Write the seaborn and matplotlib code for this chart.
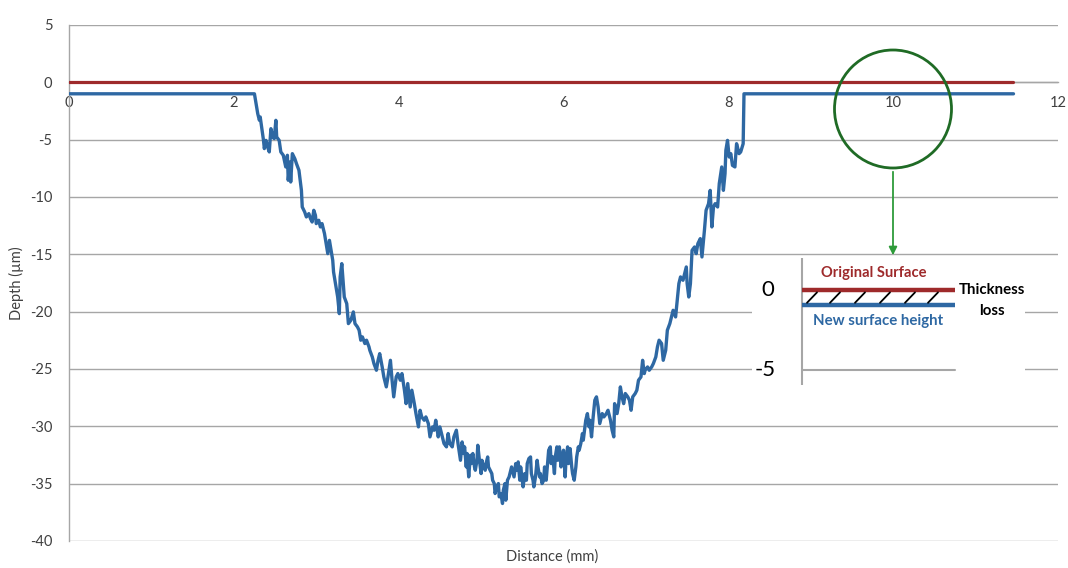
import matplotlib
matplotlib.use("Agg")
import matplotlib.pyplot as plt
import matplotlib.patches as mpatches
import seaborn as sns
import pandas as pd

# ---------------- data ----------------
original_x = [0.0, 11.46]
original_depth = [0.0, 0.0]

profile_x = [
    0.00, 2.25, 2.29, 2.31, 2.32, 2.36, 2.37, 2.39, 2.41, 2.43, 2.45, 2.47, 2.49, 2.51, 2.52,
    2.55, 2.57, 2.60, 2.63, 2.65, 2.66, 2.68, 2.69, 2.71, 2.74, 2.76, 2.79, 2.82, 2.83, 2.86,
    2.88, 2.91, 2.93, 2.95, 2.97, 2.99, 3.00, 3.03, 3.05, 3.07, 3.10, 3.12, 3.14, 3.16, 3.18,
    3.20, 3.21, 3.24, 3.26, 3.28, 3.29, 3.31, 3.33, 3.34, 3.37, 3.39, 3.42, 3.45, 3.47, 3.50,
    3.52, 3.54, 3.56, 3.59, 3.61, 3.64, 3.65, 3.68, 3.70, 3.73, 3.75, 3.77, 3.80, 3.82, 3.85,
    3.87, 3.90, 3.92, 3.94, 3.97, 3.99, 4.02, 4.04, 4.07, 4.09, 4.11, 4.14, 4.16, 4.19, 4.21,
    4.24, 4.26, 4.28, 4.31, 4.33, 4.36, 4.38, 4.41, 4.43, 4.45, 4.48, 4.50, 4.53, 4.55, 4.58,
    4.60, 4.62, 4.65, 4.67, 4.70, 4.72,
    4.75, 4.77, 4.79, 4.80, 4.82, 4.83, 4.85, 4.87, 4.88, 4.90, 4.92, 4.93, 4.95, 4.96, 4.98,
    5.00, 5.01, 5.03, 5.05, 5.06, 5.08, 5.09, 5.11, 5.13, 5.14, 5.16, 5.17, 5.19, 5.21, 5.22,
    5.24, 5.26, 5.27, 5.29, 5.30, 5.32, 5.34, 5.35, 5.37, 5.38, 5.40, 5.42, 5.43, 5.45, 5.47,
    5.48, 5.50, 5.51, 5.53, 5.55, 5.56, 5.58, 5.60, 5.61, 5.63, 5.64, 5.66, 5.68, 5.69, 5.71,
    5.72, 5.74, 5.76, 5.77, 5.79, 5.81, 5.82, 5.84, 5.85, 5.87, 5.89, 5.90, 5.92, 5.93, 5.95,
    5.97, 5.98, 6.00, 6.02, 6.03, 6.05, 6.06, 6.08, 6.10, 6.11, 6.13, 6.15, 6.16, 6.18, 6.19,
    6.21, 6.23, 6.24, 6.26, 6.27, 6.29, 6.31, 6.32,
    6.34, 6.36, 6.38, 6.40, 6.42, 6.44, 6.47, 6.49, 6.52, 6.54, 6.57, 6.59, 6.61, 6.62, 6.65,
    6.67, 6.69, 6.71, 6.73, 6.75, 6.78, 6.80, 6.82, 6.84, 6.87, 6.89, 6.91, 6.94, 6.96, 6.98,
    6.99, 7.02, 7.04, 7.07, 7.09, 7.12, 7.14, 7.16, 7.19, 7.21, 7.24, 7.26, 7.29, 7.31, 7.33,
    7.36, 7.38, 7.40, 7.42, 7.45, 7.47, 7.49, 7.50, 7.52, 7.54,
    7.56, 7.59, 7.61, 7.63, 7.66, 7.68, 7.71, 7.73, 7.76, 7.78, 7.80, 7.82, 7.84, 7.87, 7.89,
    7.92, 7.94, 7.96, 7.97, 7.99, 8.01, 8.03, 8.05, 8.08, 8.10, 8.13, 8.15, 8.18, 8.19, 11.46,
]
profile_depth = [
    -1.00, -1.00, -2.73, -3.31, -3.02, -5.06, -5.78, -5.06, -5.64, -6.07, -4.04, -4.77, -4.91, -3.31, -4.77,
    -5.06, -6.07, -6.36, -7.38, -6.36, -8.54, -6.95, -8.69, -6.22, -6.66, -7.09, -7.67, -9.42, -10.87, -11.31,
    -11.74, -11.45, -11.89, -12.18, -11.16, -11.60, -12.32, -12.03, -12.61, -12.32, -13.19, -14.07, -14.94, -13.78, -14.65,
    -15.52, -16.54, -17.84, -18.72, -20.17, -16.97, -15.81, -17.84, -18.72, -19.30, -21.04, -20.75, -20.02, -21.04, -21.33,
    -21.62, -22.49, -22.20, -22.78, -22.49, -23.07, -23.37, -23.95, -24.53, -25.11, -24.24, -23.66, -24.82, -25.69, -26.56,
    -25.69, -24.24, -25.98, -27.43, -25.69, -25.40, -25.98, -25.40, -26.85, -28.02, -26.27, -28.31, -26.85, -28.02, -28.89,
    -30.05, -28.60, -29.18, -29.47, -29.18, -29.76, -30.92, -30.05, -30.34, -29.47, -30.92, -30.05, -30.92, -31.50, -31.79,
    -30.63, -31.50, -31.79, -30.92, -30.34, -31.50,
    -32.96, -31.36, -32.37, -31.79, -33.54, -32.37, -34.41, -32.52, -33.25, -32.37, -33.54, -33.83, -32.96, -31.65, -32.96,
    -34.12, -32.96, -33.54, -33.83, -33.25, -32.67, -33.54, -33.83, -34.12, -34.70, -34.99, -35.86, -35.28, -34.99, -36.15,
    -35.86, -36.73, -35.57, -34.99, -36.44, -34.70, -34.41, -34.12, -33.54, -33.83, -34.41, -33.25, -33.83, -33.10, -34.70,
    -33.54, -34.70, -35.28, -34.12, -34.70, -33.25, -32.81, -32.67, -34.12, -34.70, -35.28, -34.41, -32.96, -33.54, -34.41,
    -34.12, -34.99, -34.70, -33.54, -34.70, -32.96, -32.08, -31.79, -33.25, -32.67, -34.12, -32.67, -31.79, -32.96, -31.79,
    -33.54, -32.96, -32.08, -34.41, -32.96, -31.79, -33.25, -31.94, -33.54, -34.12, -34.70, -33.54, -32.67, -31.79, -32.08,
    -31.50, -30.63, -31.21, -30.05, -29.47, -28.89, -30.05, -29.47,
    -30.92, -29.18, -27.72, -27.43, -28.31, -29.76, -28.89, -29.18, -28.89, -28.60, -29.47, -30.34, -30.92, -28.02, -28.89,
    -28.02, -26.56, -27.43, -28.02, -27.14, -27.43, -27.72, -28.60, -27.43, -27.14, -26.85, -25.98, -25.69, -24.24, -25.40,
    -25.11, -24.82, -25.11, -24.82, -24.53, -23.95, -23.07, -22.49, -22.78, -24.24, -23.37, -21.62, -21.04, -20.46, -19.88,
    -20.46, -19.01, -17.55, -16.97, -17.26, -16.68, -16.10, -17.55, -18.72, -17.55,
    -14.65, -14.36, -14.94, -14.07, -13.63, -15.23, -12.90, -11.16, -10.58, -9.42, -12.61, -10.87, -10.58, -10.87, -8.83,
    -7.38, -9.42, -7.96, -5.93, -5.06, -6.51, -6.22, -7.24, -7.38, -5.35, -6.22, -6.07, -5.35, -1.00, -1.00,
]

x_ticks = [0, 2, 4, 6, 8, 10, 12]
y_ticks = [-40, -35, -30, -25, -20, -15, -10, -5, 0, 5]

# inset schematic (same depth units, 0 = original surface, -1 = new surface)
inset_x = [50, 203]
inset_original = [0, 0]
inset_new = [-0.95, -0.95]
inset_ref = [-5, -5]
hatch_starts = [55, 78, 103, 128, 153, 176]

RED = "#9E2A2B"
BLUE = "#2E68A3"
GRID = "#A6A6A6"
TXT = "#404040"
GREEN_DARK = "#1F6B25"
GREEN = "#2E9B3A"

# ---------------- style ----------------
sns.set_style("white")
plt.rcParams["font.family"] = ["Lato", "DejaVu Sans"]
plt.rcParams["axes.unicode_minus"] = False

fig = plt.figure(figsize=(10.68, 5.68), dpi=100)
ax = fig.add_axes([69 / 1068, 27 / 568, 989 / 1068, 516 / 568])

df_orig = pd.DataFrame({"Distance": original_x, "Depth": original_depth})
df_prof = pd.DataFrame({"Distance": profile_x, "Depth": profile_depth})

sns.lineplot(data=df_orig, x="Distance", y="Depth", ax=ax, color=RED, lw=2.3,
             estimator=None, sort=False, zorder=3)
sns.lineplot(data=df_prof, x="Distance", y="Depth", ax=ax, color=BLUE, lw=2.4,
             estimator=None, sort=False, zorder=4)

ax.set_xlim(0, 12)
ax.set_ylim(-40, 5)
ax.set_xticks(x_ticks)
ax.set_yticks(y_ticks)
ax.yaxis.grid(True, color=GRID, lw=1.0)
ax.xaxis.grid(False)
ax.set_axisbelow(True)

for s in ["top", "right"]:
    ax.spines[s].set_visible(False)
ax.spines["left"].set_color(GRID)
ax.spines["left"].set_linewidth(1.0)
ax.spines["bottom"].set_position(("data", 0))
ax.spines["bottom"].set_color(GRID)
ax.spines["bottom"].set_linewidth(1.0)

ax.tick_params(axis="x", length=0, pad=10, labelsize=10.5, labelcolor=TXT)
ax.tick_params(axis="y", length=0, pad=12, labelsize=10.5, labelcolor=TXT)

ax.set_xlabel("Distance (mm)", fontsize=10.5, color=TXT)
ax.xaxis.set_label_coords(0.488, -0.016)
ax.set_ylabel("Depth (µm)", fontsize=10.5, color=TXT)
ax.yaxis.set_label_coords(-0.046, 0.50)

# ---------------- circle + arrow ----------------
W, H = 1068, 568
circ = mpatches.Ellipse((893 / W, 1 - 109 / H), 117 / W, 118 / H,
                        transform=fig.transFigure, fill=False,
                        edgecolor=GREEN_DARK, lw=2.0, zorder=10)
fig.patches.append(circ)
fig.add_artist(mpatches.FancyArrowPatch((893 / W, 1 - 169 / H), (893 / W, 1 - 258 / H),
                                        transform=fig.transFigure, arrowstyle="-|>",
                                        mutation_scale=12, color=GREEN, lw=1.3, zorder=10))

# ---------------- inset schematic ----------------
iax = fig.add_axes([752 / W, 1 - 385 / H, 273 / W, 127 / H])
iax.set_facecolor("white")
iax.set_xlim(0, 273)
iax.set_ylim(-5.94, 2.0)
for s in ["top", "right", "bottom", "left"]:
    iax.spines[s].set_visible(False)
iax.set_xticks([])
iax.set_yticks([])
iax.axvline(50, ymin=0.0, ymax=1.0, color=GRID, lw=1.5)
iax.plot(inset_x, inset_ref, color=GRID, lw=1.5)
iax.plot(inset_x, inset_original, color=RED, lw=3.2, solid_capstyle="butt")
iax.plot(inset_x, inset_new, color=BLUE, lw=3.2, solid_capstyle="butt")
for hx in hatch_starts:
    iax.plot([hx, hx + 10], [-0.8, -0.15], color="black", lw=1.3)
iax.text(16, 0, "0", fontsize=16, ha="center", va="center", color="black")
iax.text(13, -5, "-5", fontsize=16, ha="center", va="center", color="black")
iax.text(122, 1.05, "Original Surface", fontsize=10.6, fontweight="bold", color=RED,
         ha="center", va="center")
iax.text(126, -1.95, "New surface height", fontsize=10.8, fontweight="bold", color=BLUE,
         ha="center", va="center")
iax.text(240, 0.0, "Thickness", fontsize=10.8, fontweight="bold", color="black",
         ha="center", va="center")
iax.text(240, -1.3, "loss", fontsize=10.8, fontweight="bold", color="black",
         ha="center", va="center")

fig.savefig("out.png", dpi=100, facecolor="white")
